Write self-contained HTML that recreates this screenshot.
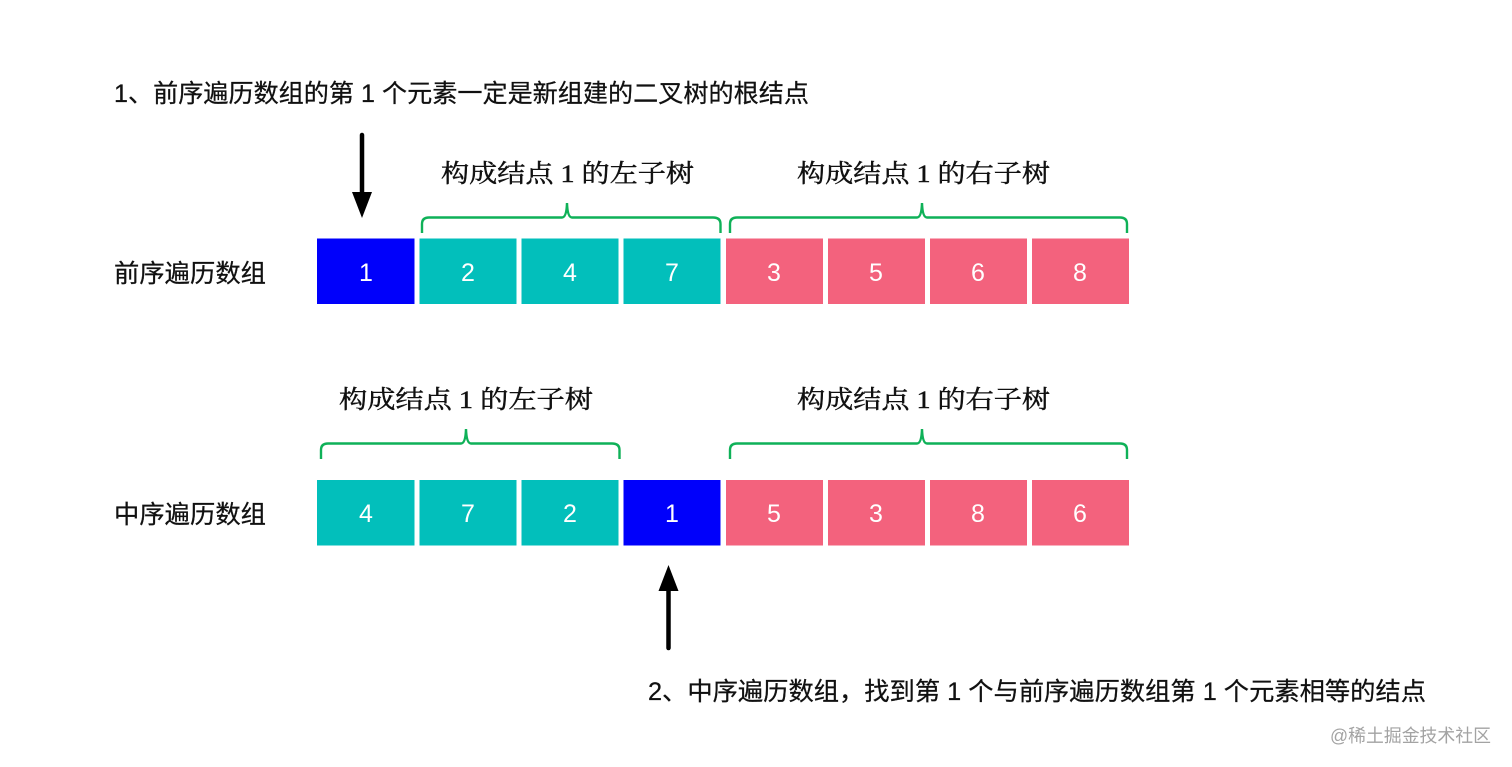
<!DOCTYPE html>
<html lang="zh">
<head>
<meta charset="utf-8">
<title>前序遍历与中序遍历数组</title>
<style>
html,body{margin:0;padding:0;background:#fff;width:1512px;height:767px;overflow:hidden}
svg{display:block}
.s{font-family:"Liberation Sans","Noto Sans CJK SC",sans-serif;fill:#111;stroke:#111;stroke-width:.25px}
.t{font-family:"Liberation Serif","Noto Serif CJK SC",serif;fill:#111;stroke:#111;stroke-width:.45px;font-size:25px}
.n{font-family:"Liberation Sans",sans-serif;fill:#fff;font-size:25px;text-anchor:middle}
.c{fill:#02bfbb}.p{fill:#f3627d}.b{fill:#0000fb}
.br{fill:none;stroke:#0fb158;stroke-width:2.4}
</style>
</head>
<body>
<svg width="1512" height="767" viewBox="0 0 1512 767" xmlns="http://www.w3.org/2000/svg">
<rect width="1512" height="767" fill="#fff"/>

<text class="s" x="114" y="102" font-size="25" textLength="695" lengthAdjust="spacingAndGlyphs">1、前序遍历数组的第 1 个元素一定是新组建的二叉树的根结点</text>

<line x1="362" y1="135" x2="362" y2="194" stroke="#000" stroke-width="4.500" stroke-linecap="round"/>
<polygon points="352,192 372,192 362,218" fill="#000"/>

<text class="t" x="441" y="182" textLength="253" lengthAdjust="spacingAndGlyphs">构成结点 1 的左子树</text>
<text class="t" x="797" y="182" textLength="253" lengthAdjust="spacingAndGlyphs">构成结点 1 的右子树</text>
<path class="br" d="M422 233 V224 Q422 217.500 429 217.500 H562 Q566.500 217.500 567 203 Q567.500 217.500 572 217.500 H713 Q720.500 217.500 720.500 224 V233"/>
<path class="br" d="M730 233 V224 Q730 217.500 737 217.500 H917 Q921.500 217.500 922 203 Q922.500 217.500 927 217.500 H1120 Q1127 217.500 1127 224 V233"/>

<text class="s" x="114" y="282" font-size="25" textLength="152" lengthAdjust="spacingAndGlyphs">前序遍历数组</text>
<rect class="b" x="317" y="238.500" width="97.500" height="65.500"/>
<rect class="c" x="419.500" y="238.500" width="97" height="65.500"/>
<rect class="c" x="521.500" y="238.500" width="97" height="65.500"/>
<rect class="c" x="623.500" y="238.500" width="97" height="65.500"/>
<rect class="p" x="726" y="238.500" width="97" height="65.500"/>
<rect class="p" x="828" y="238.500" width="97" height="65.500"/>
<rect class="p" x="930" y="238.500" width="97" height="65.500"/>
<rect class="p" x="1032" y="238.500" width="97" height="65.500"/>
<text class="n" x="366" y="281">1</text>
<text class="n" x="468" y="281">2</text>
<text class="n" x="570" y="281">4</text>
<text class="n" x="672" y="281">7</text>
<text class="n" x="774" y="281">3</text>
<text class="n" x="876" y="281">5</text>
<text class="n" x="978" y="281">6</text>
<text class="n" x="1080" y="281">8</text>

<text class="t" x="339" y="408" textLength="254" lengthAdjust="spacingAndGlyphs">构成结点 1 的左子树</text>
<text class="t" x="797" y="408" textLength="253" lengthAdjust="spacingAndGlyphs">构成结点 1 的右子树</text>
<path class="br" d="M321 459 V450 Q321 443.500 328 443.500 H461 Q465.500 443.500 466 429 Q466.500 443.500 471 443.500 H612 Q619.500 443.500 619.500 450 V459"/>
<path class="br" d="M730 459 V450 Q730 443.500 737 443.500 H917 Q921.500 443.500 922 429 Q922.500 443.500 927 443.500 H1120 Q1127 443.500 1127 450 V459"/>

<text class="s" x="114" y="523" font-size="25" textLength="152" lengthAdjust="spacingAndGlyphs">中序遍历数组</text>
<rect class="c" x="317" y="480" width="97.500" height="65.500"/>
<rect class="c" x="419.500" y="480" width="97" height="65.500"/>
<rect class="c" x="521.500" y="480" width="97" height="65.500"/>
<rect class="b" x="623.500" y="480" width="97" height="65.500"/>
<rect class="p" x="726" y="480" width="97" height="65.500"/>
<rect class="p" x="828" y="480" width="97" height="65.500"/>
<rect class="p" x="930" y="480" width="97" height="65.500"/>
<rect class="p" x="1032" y="480" width="97" height="65.500"/>
<text class="n" x="366" y="522">4</text>
<text class="n" x="468" y="522">7</text>
<text class="n" x="570" y="522">2</text>
<text class="n" x="672" y="522">1</text>
<text class="n" x="774" y="522">5</text>
<text class="n" x="876" y="522">3</text>
<text class="n" x="978" y="522">8</text>
<text class="n" x="1080" y="522">6</text>

<polygon points="668.500,565 658.500,591 678.500,591" fill="#000"/>
<line x1="668.500" y1="589" x2="668.500" y2="648" stroke="#000" stroke-width="4.500" stroke-linecap="round"/>

<text class="s" x="648" y="700" font-size="25" textLength="778" lengthAdjust="spacingAndGlyphs">2、中序遍历数组，找到第 1 个与前序遍历数组第 1 个元素相等的结点</text>

<text x="1330" y="742" font-family="&quot;Liberation Sans&quot;,&quot;Noto Sans CJK SC&quot;,sans-serif" font-size="18" fill="#a3a3a3" textLength="161" lengthAdjust="spacingAndGlyphs">@稀土掘金技术社区</text>
</svg>
</body>
</html>
